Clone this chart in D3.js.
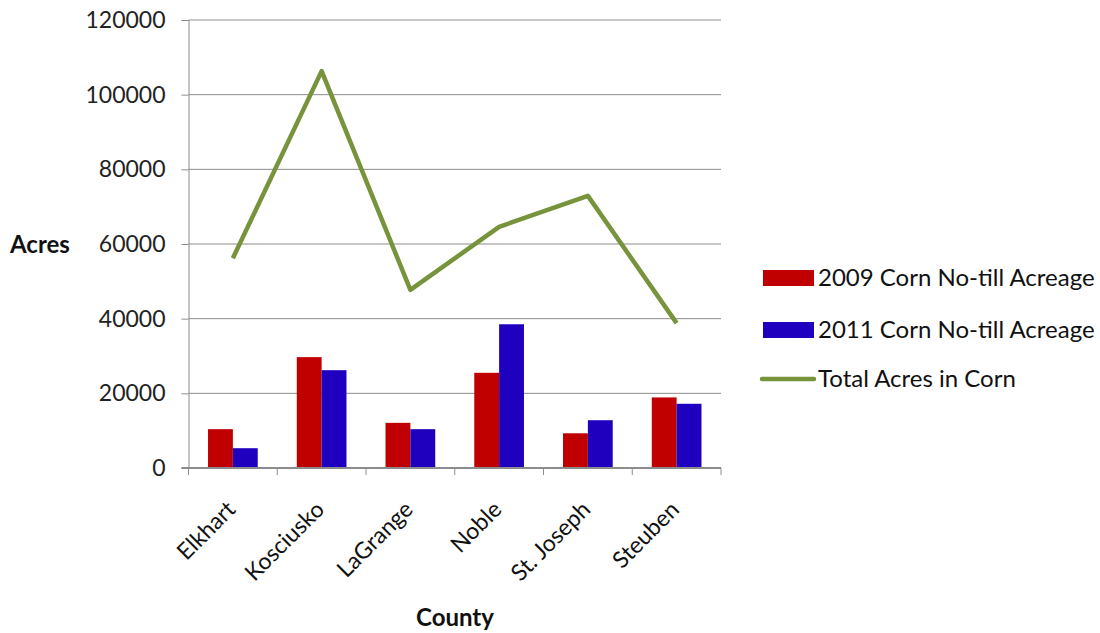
<!DOCTYPE html>
<html><head><meta charset="utf-8">
<script src="https://cdn.jsdelivr.net/npm/d3@7"></script>
<style>body{margin:0;background:#fff}</style>
</head><body>
<svg id="c" width="1100" height="633"></svg>
<script>
const categories = ["Elkhart","Kosciusko","LaGrange","Noble","St. Joseph","Steuben"];
const noTill2009 = [10400, 29700, 12100, 25500, 9300, 18900];
const noTill2011 = [5300, 26200, 10400, 38500, 12800, 17200];
const totalCorn = [56200, 106300, 47700, 64600, 72900, 38800];
const yTicks = [0,20000,40000,60000,80000,100000,120000];
const seriesNames = ["2009 Corn No-till Acreage","2011 Corn No-till Acreage","Total Acres in Corn"];
const colors = ["#C00000","#1F00BF","#77933C"];

const svg = d3.select("#c");
const L=188.5, R=721, T=20, B=468;
const x = d3.scaleBand().domain(categories).range([L,R]).padding(0);
const y = d3.scaleLinear().domain([0,120000]).range([B,T]);
const bw = x.bandwidth()*0.28;

// gridlines
svg.append("g").selectAll("line").data(yTicks.slice(1)).join("line")
  .attr("x1",L).attr("x2",R).attr("y1",d=>y(d)).attr("y2",d=>y(d))
  .attr("stroke","#8c8c8c").attr("stroke-width",1);

// y axis
const ya = svg.append("g").attr("transform",`translate(${L},0)`)
  .call(d3.axisLeft(y).tickValues(yTicks).tickSize(7).tickPadding(16).tickFormat(d3.format("d")));
ya.select(".domain").attr("stroke","#8c8c8c");
ya.selectAll(".tick line").attr("stroke","#8c8c8c");
ya.selectAll("text").attr("font-family","Lato, sans-serif").attr("font-size",23).attr("fill","#222");

// bars
const g = svg.append("g");
categories.forEach((c,i)=>{
  const cx = x(c)+x.bandwidth()/2;
  g.append("rect").attr("x",cx-bw).attr("y",y(noTill2009[i])).attr("width",bw).attr("height",y(0)-y(noTill2009[i])).attr("fill",colors[0]);
  g.append("rect").attr("x",cx).attr("y",y(noTill2011[i])).attr("width",bw).attr("height",y(0)-y(noTill2011[i])).attr("fill",colors[1]);
});

// x axis
const xa = svg.append("g").attr("transform",`translate(0,${B})`);
xa.append("line").attr("x1",L-7).attr("x2",R).attr("y1",0).attr("y2",0).attr("stroke","#8c8c8c").attr("stroke-width",2);
const bounds = categories.map(c=>x(c)).concat([R]);
xa.selectAll(".tk").data(bounds).join("line").attr("class","tk")
  .attr("x1",d=>d).attr("x2",d=>d).attr("y1",0).attr("y2",7).attr("stroke","#8c8c8c");
xa.selectAll(".lab").data(categories).join("text").attr("class","lab")
  .attr("transform",d=>`translate(${x(d)+x.bandwidth()/2+4},${43}) rotate(-45)`)
  .attr("text-anchor","end").attr("font-family","Lato, sans-serif").attr("font-size",23).attr("fill","#111")
  .text(d=>d);

// line
const line = d3.line().x((d,i)=>x(categories[i])+x.bandwidth()/2).y(d=>y(d));
svg.append("path").datum(totalCorn).attr("d",line).attr("fill","none")
  .attr("stroke",colors[2]).attr("stroke-width",4.5).attr("stroke-linejoin","round");

// axis titles
svg.append("text").attr("x",10).attr("y",253).attr("font-family","Lato, sans-serif").attr("font-weight","bold").attr("font-size",24).attr("fill","#111").text("Acres");
svg.append("text").attr("x",455).attr("y",626).attr("text-anchor","middle").attr("font-family","Lato, sans-serif").attr("font-weight","bold").attr("font-size",24).attr("fill","#111").text("County");

// legend
const leg = svg.append("g");
const ly = [278, 330, 379];
seriesNames.forEach((s,i)=>{
  if(i<2) leg.append("rect").attr("x",763).attr("y",ly[i]-8).attr("width",51).attr("height",16).attr("fill",colors[i]);
  else leg.append("line").attr("x1",762).attr("x2",814).attr("y1",ly[i]).attr("y2",ly[i]).attr("stroke",colors[i]).attr("stroke-width",4.5).attr("stroke-linecap","round");
  leg.append("text").attr("x",818).attr("y",ly[i]+8).attr("font-family","Lato, sans-serif").attr("font-size",24).attr("fill","#111").text(s);
});
</script>
</body></html>
